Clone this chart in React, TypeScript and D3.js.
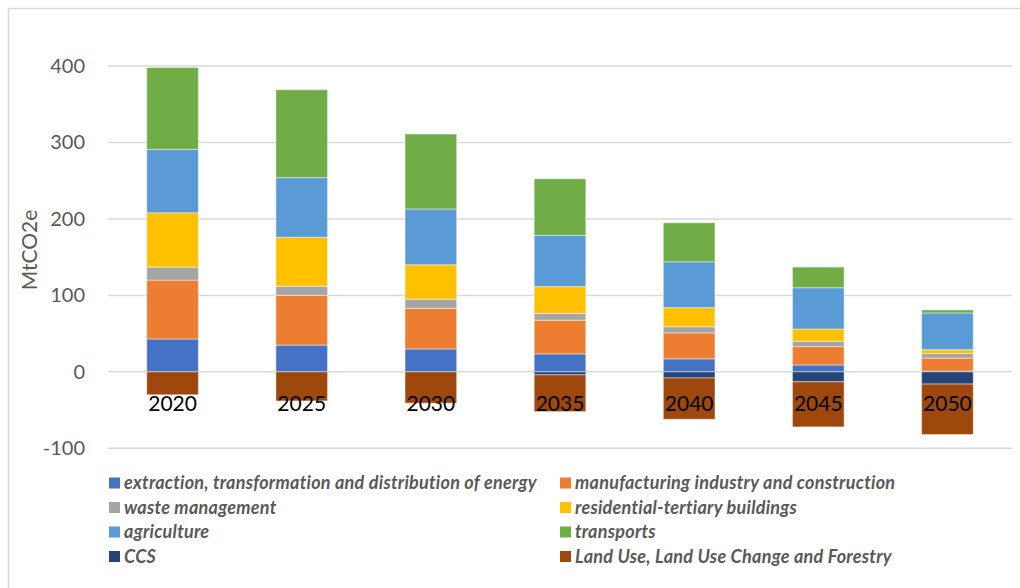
import React from "react";
import * as d3 from "d3";

const years = ["2020", "2025", "2030", "2035", "2040", "2045", "2050"];
const energy = [43, 35, 30, 23.5, 17, 9, 1];
const manufacturing = [77, 65, 53, 44, 34, 24, 17];
const waste = [17, 12, 12, 9, 8, 7, 6];
const residential = [71, 64, 45, 35, 25, 16, 5];
const agriculture = [83, 78, 73, 67, 60, 54, 48];
const transports = [107, 115, 98, 74, 51, 27, 4];
const ccs = [0, 0, 0, -4, -8, -13, -16];
const lulucf = [-30, -38, -41, -48, -54, -59, -66];
const yTicks = [-100, 0, 100, 200, 300, 400];

const seriesDefs = [
  { key: "energy", label: "extraction, transformation and distribution of energy", color: "#4472C4", values: energy },
  { key: "manufacturing", label: "manufacturing industry and construction", color: "#ED7D31", values: manufacturing },
  { key: "waste", label: "waste management", color: "#A5A5A5", values: waste },
  { key: "residential", label: "residential-tertiary buildings", color: "#FFC000", values: residential },
  { key: "agriculture", label: "agriculture", color: "#5B9BD5", values: agriculture },
  { key: "transports", label: "transports", color: "#70AD47", values: transports },
  { key: "ccs", label: "CCS", color: "#264478", values: ccs },
  { key: "lulucf", label: "Land Use, Land Use Change and Forestry", color: "#9E480E", values: lulucf },
];

const W = 1020;
const H = 588;
const plotLeft = 108;
const plotRight = 1012;

export default function App() {
  const rows = years.map((y, i) => {
    const r: any = { year: y };
    seriesDefs.forEach((s) => (r[s.key] = s.values[i]));
    return r;
  });
  const stack = d3
    .stack<any>()
    .keys(seriesDefs.map((s) => s.key))
    .offset(d3.stackOffsetDiverging);
  const stacked = stack(rows);

  const x = d3.scaleBand<string>().domain(years).range([plotLeft, plotRight]).paddingInner(0.6).paddingOuter(0.3);
  const y = d3.scaleLinear().domain([-100, 400]).range([448.3, 66]);

  const legendRowsY = [483, 507.5, 532, 556.5];
  const legendCols = [109, 560];

  const font = "Lato, 'Open Sans', sans-serif";

  return (
    <svg
      width={W}
      height={H}
      style={{ position: "absolute", left: 0, top: 0, background: "#fff" }}
      fontFamily={font}
    >
      <rect x={0} y={0} width={W} height={H} fill="#fff" />
      <rect x={8.5} y={8.5} width={W + 20} height={H + 20} fill="none" stroke="#d9d9d9" strokeWidth={1.5} />
      {yTicks.map((t) => (
        <g key={t}>
          <line x1={plotLeft} x2={plotRight} y1={y(t)} y2={y(t)} stroke="#d9d9d9" strokeWidth={1.5} />
          <text x={85} y={y(t)} dy="0.35em" textAnchor="end" fontSize={20} fill="#595959">
            {t}
          </text>
        </g>
      ))}
      <text
        transform={`translate(37,250) rotate(-90)`}
        textAnchor="middle"
        fontSize={21}
        fill="#595959"
      >
        MtCO2e
      </text>
      {stacked.map((layer, li) => (
        <g key={layer.key} fill={seriesDefs[li].color}>
          {layer.map((d, i) => {
            const h = Math.abs(y(d[0]) - y(d[1]));
            if (h < 0.01) return null;
            return (
              <rect
                key={i}
                x={x(years[i])}
                y={Math.min(y(d[0]), y(d[1]))}
                width={x.bandwidth()}
                height={h}
                stroke="rgba(255,255,255,0.45)"
                strokeWidth={1}
              />
            );
          })}
        </g>
      ))}
      {years.map((yr) => (
        <text
          key={yr}
          x={(x(yr) as number) + x.bandwidth() / 2}
          y={y(0) + 39}
          textAnchor="middle"
          fontSize={21}
          fill="#000"
        >
          {yr}
        </text>
      ))}
      {seriesDefs.map((s, i) => {
        const col = i % 2;
        const row = Math.floor(i / 2);
        const lx = legendCols[col];
        const ly = legendRowsY[row];
        return (
          <g key={s.key}>
            <rect x={lx} y={ly - 5.5} width={11} height={11} fill={s.color} />
            <text
              x={lx + 15}
              y={ly}
              dy="0.35em"
              fontSize={18}
              letterSpacing={0.25}
              fontWeight="bold"
              fontStyle="italic"
              fill="#595959"
            >
              {s.label}
            </text>
          </g>
        );
      })}
    </svg>
  );
}
